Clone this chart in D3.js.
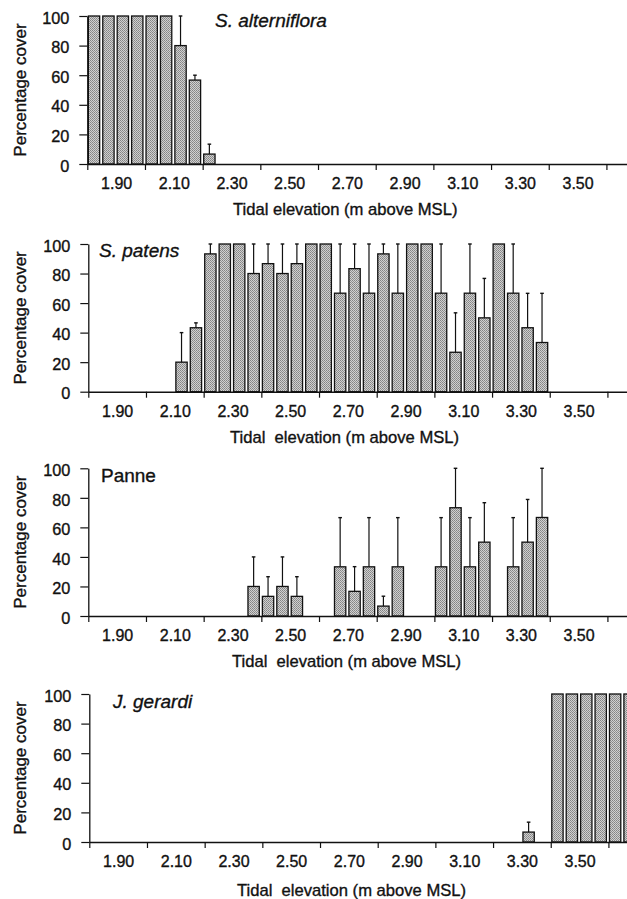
<!DOCTYPE html>
<html><head><meta charset="utf-8">
<script src="https://cdn.jsdelivr.net/npm/d3@7"></script>
<style>
html,body{margin:0;padding:0;background:#fff}
text{font-family:"Liberation Sans",Arial,Helvetica,sans-serif;fill:#111;stroke:#111;stroke-width:0.35px}
</style>
</head><body>
<svg id="c" width="627" height="899"></svg>
<script>
// ---- data ----
const elevations = [1.80,1.85,1.90,1.95, 2.00,2.05,2.10,2.15, 2.20,2.25,2.30,2.35, 2.40,2.45,2.50,2.55,
  2.60,2.65,2.70,2.75, 2.80,2.85,2.90,2.95, 3.00,3.05,3.10,3.15, 3.20,3.25,3.30,3.35, 3.40,3.45,3.50,3.55, 3.60,3.65];
const binWidth = 0.05;
const tickBounds = [1.80,2.00,2.20,2.40,2.60,2.80,3.00,3.20,3.40,3.60];
const tickLabels = [1.90,2.10,2.30,2.50,2.70,2.90,3.10,3.30,3.50];
const yTicks = [0,20,40,60,80,100];
const species = ["S. alterniflora","S. patens","Panne","J. gerardi"];
const speciesItalic = [true,true,false,true];
const xTitles = ["Tidal elevation (m above MSL)","Tidal  elevation (m above MSL)","Tidal  elevation (m above MSL)","Tidal  elevation (m above MSL)"];
const yTitle = "Percentage cover";

const altCover = [100,100,100,100, 100,100,80,56.7, 6.7,0,0,0, 0,0,0,0, 0,0,0,0, 0,0,0,0, 0,0,0,0, 0,0,0,0, 0,0,0,0, 0,0];
const altSE    = [0,0,0,0, 0,0,20,3.3, 6.7,0,0,0, 0,0,0,0, 0,0,0,0, 0,0,0,0, 0,0,0,0, 0,0,0,0, 0,0,0,0, 0,0];
const patCover = [0,0,0,0, 0,0,20,43.3, 93.3,100,100,80, 86.7,80,86.7,100, 100,66.7,83.3,66.7, 93.3,66.7,100,100, 66.7,26.7,66.7,50, 100,66.7,43.3,33.3, 0,0,0,0, 0,0];
const patSE    = [0,0,0,0, 0,0,20,3.3, 6.7,0,0,20, 13.3,20,13.3,0, 0,33.3,16.7,33.3, 6.7,33.3,0,0, 33.3,26.7,33.3,26.7, 0,33.3,23.3,33.3, 0,0,0,0, 0,0];
const panCover = [0,0,0,0, 0,0,0,0, 0,0,0,20, 13.3,20,13.3,0, 0,33.3,16.7,33.3, 6.7,33.3,0,0, 33.3,73.3,33.3,50, 0,33.3,50,66.7, 0,0,0,0, 0,0];
const panSE    = [0,0,0,0, 0,0,0,0, 0,0,0,20, 13.3,20,13.3,0, 0,33.3,16.7,33.3, 6.7,33.3,0,0, 33.3,26.7,33.3,26.7, 0,33.3,28.9,33.3, 0,0,0,0, 0,0];
const gerCover = [0,0,0,0, 0,0,0,0, 0,0,0,0, 0,0,0,0, 0,0,0,0, 0,0,0,0, 0,0,0,0, 0,0,6.7,0, 100,100,100,100, 100,100];
const gerSE    = [0,0,0,0, 0,0,0,0, 0,0,0,0, 0,0,0,0, 0,0,0,0, 0,0,0,0, 0,0,0,0, 0,0,6.7,0, 0,0,0,0, 0,0];

const covers = [altCover, patCover, panCover, gerCover];
const ses = [altSE, patSE, panSE, gerSE];

// ---- layout ----
const layout = [
  {top:16,    bottom:164,   left:87.3, nameX:215, nameY:27,  titleX:233, titleY:215},
  {top:244,   bottom:391.7, left:88.3, nameX:99,  nameY:257, titleX:230, titleY:443},
  {top:468.3, bottom:616,   left:88.3, nameX:101, nameY:482, titleX:232, titleY:667},
  {top:694,   bottom:842,   left:89.3, nameX:113, nameY:708, titleX:237, titleY:896}
];
const pxPerM = 288.4;
const xMax = 3.68;

const svg = d3.select("#c");
svg.append("rect").attr("width",627).attr("height",899).attr("fill","#fff");
const defs = svg.append("defs");
const pat = defs.append("pattern").attr("id","stip").attr("width",2).attr("height",2).attr("patternUnits","userSpaceOnUse");
pat.append("rect").attr("width",2).attr("height",2).attr("fill","#d0d0d0");
pat.append("rect").attr("width",1).attr("height",1).attr("fill","#848484");
pat.append("rect").attr("x",1).attr("y",1).attr("width",1).attr("height",1).attr("fill","#929292");

species.forEach((name, p) => {
  const L = layout[p];
  const x = d3.scaleLinear().domain([1.80, xMax]).range([L.left, L.left + (xMax-1.80)*pxPerM]);
  const y = d3.scaleLinear().domain([0,100]).range([L.bottom, L.top]);
  const g = svg.append("g");

  // bars
  const data = elevations.map((e,i) => ({e, v: covers[p][i], se: ses[p][i]}));
  g.selectAll("rect.bar").data(data.filter(d => d.v > 0)).join("rect")
    .attr("class","bar")
    .attr("x", d => x(d.e) + 1.05)
    .attr("width", d => x(d.e + binWidth) - x(d.e) - 3.1)
    .attr("y", d => y(d.v))
    .attr("height", d => y(0) - y(d.v))
    .attr("fill","url(#stip)")
    .attr("stroke","#111")
    .attr("stroke-width",1.3);

  // error bars (upper only)
  const eb = g.selectAll("g.err").data(data.filter(d => d.se > 0)).join("g").attr("class","err");
  const cx = d => (x(d.e) + 1.05 + (x(d.e + binWidth) - x(d.e) - 3.1)/2);
  eb.append("line").attr("x1",cx).attr("x2",cx).attr("y1",d=>y(d.v)).attr("y2",d=>y(d.v+d.se))
    .attr("stroke","#111").attr("stroke-width",1.2);
  eb.append("line").attr("x1",d=>cx(d)-1.8).attr("x2",d=>cx(d)+1.8).attr("y1",d=>y(d.v+d.se)).attr("y2",d=>y(d.v+d.se))
    .attr("stroke","#111").attr("stroke-width",1.4);

  // x axis ticks
  const xa = g.append("g").attr("transform",`translate(0,${L.bottom})`)
    .call(d3.axisBottom(x).tickValues(tickBounds).tickSize(6).tickSizeOuter(0).tickFormat(""));
  xa.select(".domain").attr("stroke","#111").attr("stroke-width",1.6);
  xa.selectAll(".tick line").attr("stroke","#111").attr("stroke-width",1.2);

  // x labels
  const xl = g.append("g").attr("transform",`translate(0,${L.bottom})`)
    .call(d3.axisBottom(x).tickValues(tickLabels).tickSize(0).tickPadding(13.6).tickFormat(d3.format(".2f")));
  xl.select(".domain").remove();
  xl.selectAll("text").attr("font-size",16).style("font-family","'Liberation Sans',Arial,sans-serif").attr("fill","#111");

  // y axis
  const ya = g.append("g").attr("transform",`translate(${L.left},0)`)
    .call(d3.axisLeft(y).tickValues(yTicks).tickSize(8).tickPadding(10).tickSizeOuter(0));
  ya.select(".domain").attr("stroke","#111").attr("stroke-width",1.3);
  ya.selectAll(".tick line").attr("stroke","#111").attr("stroke-width",1.2);
  ya.selectAll("text").attr("font-size",16.3).attr("dy","0.44em").style("font-family","'Liberation Sans',Arial,sans-serif").attr("fill","#111");

  // species name
  g.append("text").attr("x",L.nameX).attr("y",L.nameY).attr("font-size",19)
    .attr("font-style", speciesItalic[p] ? "italic" : "normal").text(name);

  // x title
  g.append("text").attr("x",L.titleX).attr("y",L.titleY).attr("font-size",16.6)
    .style("white-space","pre").text(xTitles[p]);

  // y title
  g.append("text").attr("transform",`translate(26,${(L.top+L.bottom)/2}) rotate(-90)`)
    .attr("text-anchor","middle").attr("font-size",17).text(yTitle);
});
</script>
</body></html>
